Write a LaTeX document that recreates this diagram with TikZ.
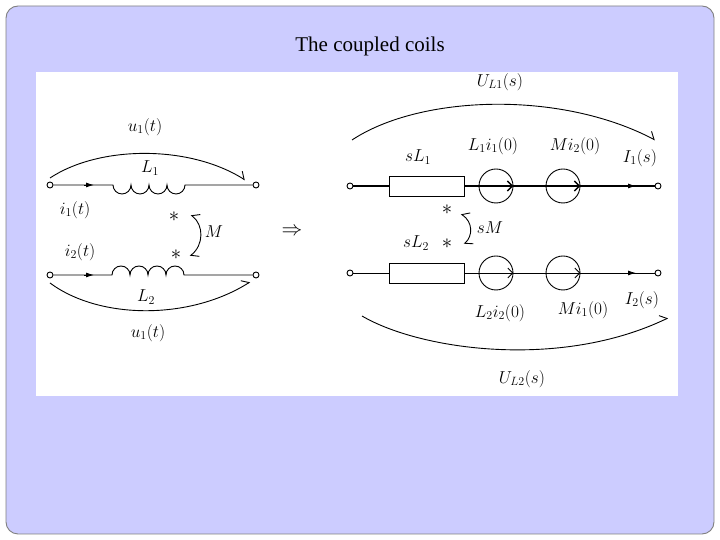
\documentclass[tikz,border=0pt]{standalone}
\usepackage{fontspec}
\setmainfont{Liberation Serif}
\usetikzlibrary{arrows.meta}
\definecolor{slide}{RGB}{204,204,255}
\tikzset{
 every path/.style={line width=0.9pt},
 term/.style={circle,draw,fill=white,inner sep=0pt,minimum size=6pt},
 lbl/.style={font=\fontsize{18}{20}\selectfont},
 star/.style={font=\fontsize{20}{20}\selectfont},
 volt/.style={-{Straight Barb[left,length=6pt]}},
 cur/.style={-{Latex[length=8pt,width=5pt]}},
 src/.style={circle,draw,minimum size=34pt,inner sep=0pt},
 imp/.style={draw,minimum width=75pt,minimum height=20pt,inner sep=0pt}
}
\begin{document}
\begin{tikzpicture}[x=1pt,y=1pt]
\useasboundingbox (0,0) rectangle (720,540);
\draw[gray,fill=slide,rounded corners=12pt] (6,6) rectangle (714,534);
\fill[white] (36,144) rectangle (678,468);
\node[font=\fontsize{21}{24}\selectfont] (title) at (370,494) {The coupled coils};
% ---- left circuit
\node[term] (a1) at (50,355) {};
\node[term] (b1) at (256,355) {};
\node[term] (a2) at (50,265) {};
\node[term] (b2) at (256,265) {};
\coordinate (c1s) at (113,355); \coordinate (c2s) at (112,265);
\draw (a1) -- (c1s) arc[start angle=180,end angle=360,radius=9] arc[start angle=180,end angle=360,radius=9] arc[start angle=180,end angle=360,radius=9] arc[start angle=180,end angle=360,radius=9] -- (b1);
\draw (a2) -- (c2s) arc[start angle=180,end angle=0,radius=9] arc[start angle=180,end angle=0,radius=9] arc[start angle=180,end angle=0,radius=9] arc[start angle=180,end angle=0,radius=9] -- (b2);
\coordinate (k1) at (84,355); \coordinate (k1e) at (94,355);
\coordinate (k2) at (84,265); \coordinate (k2e) at (94,265);
\draw[cur] (k1) -- (k1e);
\draw[cur] (k2) -- (k2e);
\node[lbl] (u1) at (145,413) {$u_1(t)$};
\node[lbl] (L1) at (150,372) {$L_1$};
\node[lbl] (i1) at (75,330) {$i_1(t)$};
\node[star] (s1) at (174,323) {$*$};
\node[lbl] (M) at (214,308) {$M$};
\node[lbl] (i2) at (80,288) {$i_2(t)$};
\node[star] (s2) at (176,285) {$*$};
\node[lbl] (L2) at (146,243) {$L_2$};
\node[lbl] (u1b) at (148,207) {$u_1(t)$};
\coordinate (v1s) at (50,362); \coordinate (v1e) at (245,360);
\coordinate (v2s) at (50,257); \coordinate (v2e) at (250,258);
\draw[volt] (v1s) .. controls (100,395) and (190,395) .. (v1e);
\draw[volt] (v2s) .. controls (100,220) and (190,220) .. (v2e);
\coordinate (m1) at (191,325); \coordinate (m2) at (190,284);
\draw[{Straight Barb[right,length=6pt]}-{Straight Barb[left,length=6pt]}] (m1) .. controls (204,315) and (204,295) .. (m2);
\node[font=\fontsize{20}{20}\selectfont] (imp) at (292,308) {$\Rightarrow$};
% ---- right circuit
\node[term] (p1) at (350,354) {};
\node[term] (q1) at (658,354) {};
\node[term] (p2) at (350,267) {};
\node[term] (q2) at (658,267) {};
\node[imp] (z1) at (427,354) {};
\node[imp] (z2) at (427,267) {};
\node[src] (e1) at (496,354) {};
\node[src] (e2) at (563,354) {};
\node[src] (e3) at (496,267) {};
\node[src] (e4) at (563,267) {};
\draw[line width=1.5pt] (p1) -- (z1) -- (e1) -- (e2) -- (q1);
\draw (p2) -- (z2) -- (e3) -- (e4) -- (q2);
\draw[line width=1.5pt,-{Straight Barb[length=5pt]}] (e1.west) -- (e1.east);
\draw[line width=1.5pt,-{Straight Barb[length=5pt]}] (e2.west) -- (e2.east);
\draw[-{Straight Barb[length=5pt]}] (e3.west) -- (e3.east);
\draw[-{Straight Barb[length=5pt]}] (e4.west) -- (e4.east);
\coordinate (k3) at (626,354); \coordinate (k3e) at (636,354);
\coordinate (k4) at (626,267); \coordinate (k4e) at (636,267);
\draw[cur] (k3) -- (k3e);
\draw[cur] (k4) -- (k4e);
\node[lbl] (UL1) at (500,458) {$U_{L1}(s)$};
\node[lbl] (sL1) at (418,383) {$sL_1$};
\node[lbl] (L1i) at (493,394) {$L_1i_1(0)$};
\node[lbl] (Mi2) at (575,394) {$Mi_2(0)$};
\node[lbl] (I1) at (640,382) {$I_1(s)$};
\node[star] (s3) at (447,330) {$*$};
\node[lbl] (sM) at (490,312) {$sM$};
\node[lbl] (sL2) at (416,297) {$sL_2$};
\node[star] (s4) at (447,296) {$*$};
\node[lbl] (L2i) at (500,227) {$L_2i_2(0)$};
\node[lbl] (Mi1) at (583,230) {$Mi_1(0)$};
\node[lbl] (I2) at (642,240) {$I_2(s)$};
\node[lbl] (UL2) at (522,161) {$U_{L2}(s)$};
\coordinate (w1s) at (352,400); \coordinate (w1e) at (655,400);
\coordinate (w2s) at (362,224); \coordinate (w2e) at (668,222);
\draw[volt] (w1s) .. controls (420,445) and (560,450) .. (w1e);
\draw[volt] (w2s) .. controls (420,190) and (560,170) .. (w2e);
\coordinate (n1) at (461,326); \coordinate (n2) at (464,296);
\draw[{Straight Barb[right,length=6pt]}-{Straight Barb[left,length=6pt]}] (n1) .. controls (473,318) and (473,304) .. (n2);
\end{tikzpicture}
\end{document}
